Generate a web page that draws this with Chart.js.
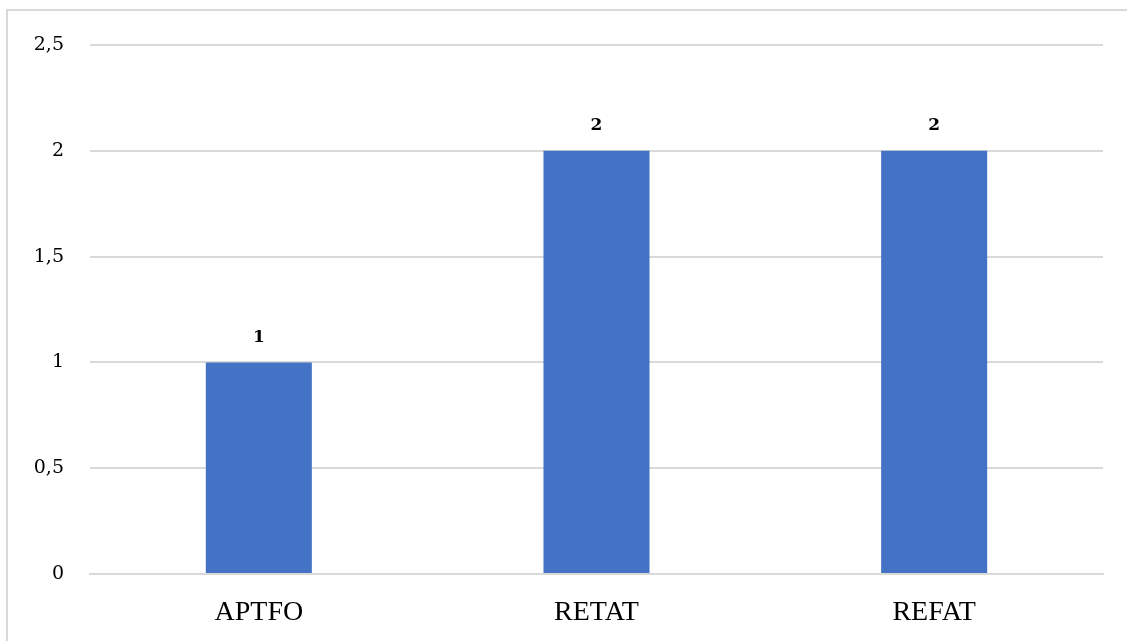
<!DOCTYPE html>
<html>
<head>
<meta charset="utf-8">
<script src="https://cdn.jsdelivr.net/npm/chart.js@4.4.1/dist/chart.umd.min.js"></script>
<style>
    html, body {margin: 0; padding: 0; background: #fff; overflow: hidden;}
    #frame {position: absolute; left: 6px; top: 9px; width: 1300px; height: 800px; border: 2px solid #d9d9d9;}
    #wrap {position: absolute; left: 0; top: 0; width: 1127px; height: 641px;}
</style>
</head>
<body>
<div id="frame"></div>
<div id="wrap"><canvas id="chart" width="1127" height="641"></canvas></div>
<script>
const categories = ['APTFO', 'RETAT', 'REFAT'];
const counts = [1, 2, 2];
const yTicks = [0, 0.5, 1, 1.5, 2, 2.5];

const serif = "'Liberation Serif', 'DejaVu Serif', serif";
const numSerif = "'DejaVu Serif', 'Liberation Serif', serif";

// writes each bar's value just above it
const valueLabels = {
    id: 'valueLabels',
    afterDatasetsDraw(chart) {
        const ctx = chart.ctx;
        ctx.save();
        ctx.font = `bold 17px ${numSerif}`;
        ctx.fillStyle = '#000';
        ctx.textAlign = 'center';
        ctx.textBaseline = 'middle';
        chart.getDatasetMeta(0).data.forEach((bar, i) => {
            ctx.fillText(String(counts[i]).replace('.', ','), bar.x, bar.y - 25);
        });
        ctx.restore();
    }
};

new Chart(document.getElementById('chart'), {
    type: 'bar',
    data: {
        labels: categories,
        datasets: [{data: counts, backgroundColor: '#4472c4', categoryPercentage: 1, barPercentage: 0.314}]
    },
    options: {
        responsive: false,
        animation: false,
        layout: {padding: {top: 45, right: 24, left: 0, bottom: 0}},
        plugins: {legend: {display: false}, tooltip: {enabled: false}},
        scales: {
            x: {
                grid: {display: false, drawTicks: false},
                border: {display: true, color: '#d9d9d9', width: 2},
                ticks: {color: '#000', font: {family: serif, size: 28}, padding: 22},
                afterFit: s => { s.height = 67; }
            },
            y: {
                min: 0,
                max: 2.5,
                afterBuildTicks: s => { s.ticks = yTicks.map(v => ({value: v})); },
                grid: {color: '#d9d9d9', lineWidth: 2, drawTicks: false},
                border: {display: false},
                ticks: {
                    color: '#000',
                    font: {family: numSerif, size: 19},
                    padding: 26,
                    callback: v => String(v).replace('.', ',')
                },
                afterFit: s => { s.width = 90; }
            }
        }
    },
    plugins: [valueLabels]
});
</script>
</body>
</html>
